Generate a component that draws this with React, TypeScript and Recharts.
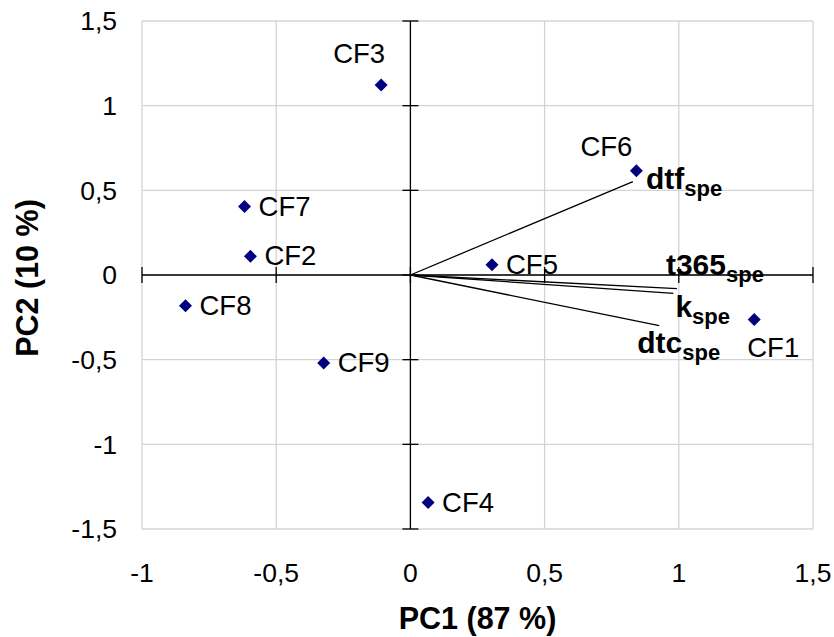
import React from 'react';
import { ScatterChart, Scatter, XAxis, YAxis, CartesianGrid, ReferenceLine, Label } from 'recharts';

const categories = ['CF1', 'CF2', 'CF3', 'CF4', 'CF5', 'CF6', 'CF7', 'CF8', 'CF9'];
const pc1Scores = [1.281, -0.596, -0.109, 0.066, 0.304, 0.842, -0.618, -0.838, -0.323];
const pc2Scores = [-0.263, 0.11, 1.122, -1.344, 0.061, 0.615, 0.404, -0.181, -0.519];

const variableNames = ['dtf', 't365', 'k', 'dtc'];
const variableSubscript = 'spe';
const loadingPc1 = [0.829, 0.993, 0.98, 0.927];
const loadingPc2 = [0.552, -0.081, -0.108, -0.299];

const xTicks = [-1, -0.5, 0, 0.5, 1, 1.5];
const yTicks = [-1.5, -1, -0.5, 0, 0.5, 1, 1.5];
const xTitle = 'PC1 (87 %)';
const yTitle = 'PC2 (10 %)';

const FONT = '"Liberation Sans", Arial, Helvetica, sans-serif';

const scores = categories.map((name, i) => ({ name, x: pc1Scores[i], y: pc2Scores[i] }));
const loadings = variableNames.map((name, i) => ({ name, x: loadingPc1[i], y: loadingPc2[i] }));

// label placement (style only)
const defaultPlacement = { dx: 14, dy: 9, anchor: 'start' };
const scorePlacement: Record<string, { dx: number; dy: number; anchor: string }> = {
  CF1: { dx: 19, dy: 37, anchor: 'middle' },
  CF3: { dx: -22, dy: -22, anchor: 'middle' },
  CF6: { dx: -4, dy: -15, anchor: 'end' },
};
const loadingPlacement: Record<string, { dx: number; dy: number }> = {
  dtf: { dx: 13, dy: 7 },
  t365: { dx: -11, dy: -14 },
  k: { dx: 2, dy: 24 },
  dtc: { dx: -22, dy: 27 },
};

const fmt = (v: number) => String(v).replace('.', ',');

const ScorePoint = (props: any) => {
  const { cx, cy, payload } = props;
  if (cx == null || cy == null) return <g />;
  const p = scorePlacement[payload.name] || defaultPlacement;
  const r = 6.5;
  return (
    <g>
      <polygon
        points={`${cx},${cy - r} ${cx + r},${cy} ${cx},${cy + r} ${cx - r},${cy}`}
        fill="#000080"
      />
      <text
        x={cx + p.dx}
        y={cy + p.dy}
        textAnchor={p.anchor as any}
        fontSize={27.5}
        fontFamily={FONT}
        fill="#000"
      >
        {payload.name}
      </text>
    </g>
  );
};

const LoadingLabel = (props: any) => {
  const { cx, cy, payload } = props;
  if (cx == null || cy == null) return <g />;
  const p = loadingPlacement[payload.name] || { dx: 5, dy: 5 };
  return (
    <text x={cx + p.dx} y={cy + p.dy} fontFamily={FONT} fontWeight="bold" fill="#000" fontSize={30}>
      <tspan>{payload.name}</tspan>
      <tspan fontSize={22} dy={7}>
        {variableSubscript}
      </tspan>
    </text>
  );
};

const TICK_HALF = 8;

const HorizontalZeroAxis = (props: any) => {
  const { x1, y1, x2 } = props;
  const lo = xTicks[0];
  const hi = xTicks[xTicks.length - 1];
  return (
    <g>
      <line x1={x1} y1={y1} x2={x2} y2={y1} stroke="#000" strokeWidth={1.3} />
      {xTicks.map((t) => {
        const px = x1 + ((t - lo) / (hi - lo)) * (x2 - x1);
        return <line key={t} x1={px} x2={px} y1={y1 - TICK_HALF} y2={y1 + TICK_HALF} stroke="#000" strokeWidth={1.3} />;
      })}
    </g>
  );
};

const VerticalZeroAxis = (props: any) => {
  const { x1, y1, y2 } = props;
  const lo = yTicks[0];
  const hi = yTicks[yTicks.length - 1];
  const top = Math.min(y1, y2);
  const bottom = Math.max(y1, y2);
  return (
    <g>
      <line x1={x1} y1={top} x2={x1} y2={bottom} stroke="#000" strokeWidth={1.3} />
      {yTicks.map((t) => {
        const py = bottom - ((t - lo) / (hi - lo)) * (bottom - top);
        return <line key={t} x1={x1 - TICK_HALF} x2={x1 + TICK_HALF} y1={py} y2={py} stroke="#000" strokeWidth={1.3} />;
      })}
    </g>
  );
};

export default function App() {
  return (
    <div style={{ position: 'absolute', left: 0, top: 0, background: '#fff' }}>
      <ScatterChart width={834} height={637} margin={{ top: 21, right: 21, bottom: 0, left: 10 }}>
        <CartesianGrid stroke="#d4d4d4" strokeWidth={1.3} />
        <XAxis
          type="number"
          dataKey="x"
          domain={[-1, 1.5]}
          ticks={xTicks}
          allowDataOverflow
          axisLine={false}
          tickLine={false}
          tickSize={0}
          tickMargin={34}
          height={108}
          tickFormatter={fmt}
          tick={{ fontSize: 26.5, fill: '#000', fontFamily: FONT }}
          interval={0}
        >
          <Label
            content={(p: any) => {
              const vb = p.viewBox || { x: 142, y: 529, width: 671, height: 108 };
              return (
                <text
                  x={vb.x + vb.width / 2}
                  y={vb.y + vb.height - 8}
                  textAnchor="middle"
                  fontSize={30.5}
                  fontWeight="bold"
                  fontFamily={FONT}
                  fill="#000"
                >
                  {xTitle}
                </text>
              );
            }}
          />
        </XAxis>
        <YAxis
          type="number"
          dataKey="y"
          domain={[-1.5, 1.5]}
          ticks={yTicks}
          allowDataOverflow
          axisLine={false}
          tickLine={false}
          tickSize={0}
          tickMargin={25}
          width={132}
          tickFormatter={fmt}
          tick={{ fontSize: 26.5, fill: '#000', fontFamily: FONT }}
          interval={0}
        >
          <Label
            content={(p: any) => {
              const vb = p.viewBox || { x: 10, y: 21, width: 132, height: 508 };
              const x = vb.x + 28;
              const y = vb.y + vb.height / 2 + 3;
              return (
                <text
                  x={x}
                  y={y}
                  transform={`rotate(-90, ${x}, ${y})`}
                  textAnchor="middle"
                  fontSize={30.5}
                  fontWeight="bold"
                  fontFamily={FONT}
                  fill="#000"
                >
                  {yTitle}
                </text>
              );
            }}
          />
        </YAxis>
        <ReferenceLine y={0} shape={HorizontalZeroAxis} ifOverflow="visible" />
        <ReferenceLine x={0} shape={VerticalZeroAxis} ifOverflow="visible" />
        {loadings.map((l) => (
          <ReferenceLine
            key={l.name}
            segment={[
              { x: 0, y: 0 },
              { x: l.x, y: l.y },
            ]}
            stroke="#000"
            strokeWidth={1.3}
            ifOverflow="visible"
          />
        ))}
        <Scatter data={loadings} shape={LoadingLabel} isAnimationActive={false} />
        <Scatter data={scores} shape={ScorePoint} isAnimationActive={false} />
      </ScatterChart>
    </div>
  );
}
